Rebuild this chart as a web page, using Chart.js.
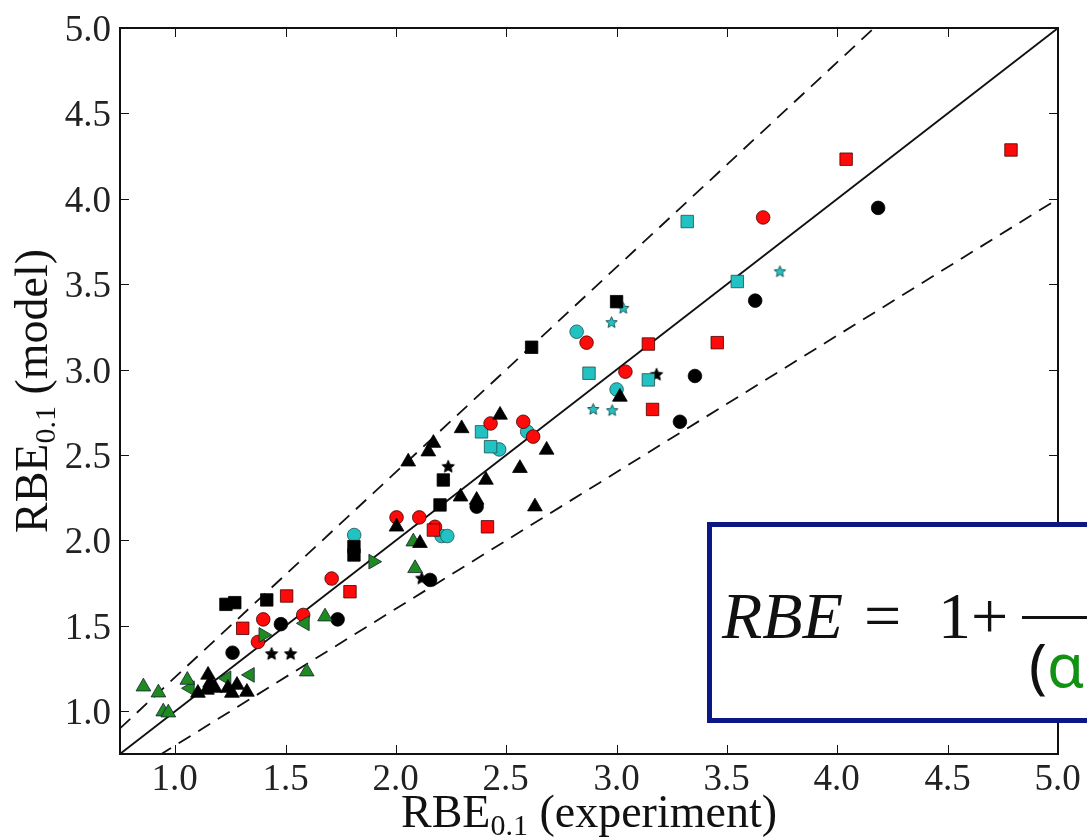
<!DOCTYPE html>
<html>
<head>
<meta charset="utf-8">
<script src="https://cdn.jsdelivr.net/npm/chart.js@4.4.1/dist/chart.umd.min.js"></script>
<style>
  html, body { margin: 0; padding: 0; background: #fff; overflow: hidden; }
  #wrap { position: relative; width: 1087px; height: 839px; overflow: hidden; }
  #formula {
    position: absolute; left: 707px; top: 522px; width: 430px; height: 191px;
    border: 5px solid #0b1784; background: #fff;
  }
  .f { position: absolute; line-height: 1; white-space: nowrap; color: #111; }
  .serif { font-family: "Liberation Serif", serif; font-size: 66px; }
  .sans { font-family: "Noto Sans", sans-serif; font-size: 60px; }
  #bar { position: absolute; left: 1022px; top: 616px; width: 90px; height: 3px; background: #111; }
</style>
</head>
<body>
<div id="wrap">
  <canvas id="rbeChart" width="1087" height="839"></canvas>
  <div id="formula"></div>
  <span class="f serif" style="left:722px; top:583px; font-style:italic;">RBE</span>
  <span class="f serif" style="left:864px; top:583px;">=</span>
  <span class="f serif" style="left:938px; top:583px;">1+</span>
  <div id="bar"></div>
  <span class="f sans" style="left:1029px; top:634px;">(<span style="color:#129212;">α</span></span>
</div>
<script>
// axis range and ticks (same for both axes)
const AXIS_MIN = 0.75;
const AXIS_MAX = 5.0;
const TICKS = [1.0, 1.5, 2.0, 2.5, 3.0, 3.5, 4.0, 4.5, 5.0];
const TICK_LABELS = ["1.0", "1.5", "2.0", "2.5", "3.0", "3.5", "4.0", "4.5", "5.0"];

// reference lines: identity and +/-20 %
const GUIDE_X = [0.75, 5.0];
const IDENTITY_Y = [0.75, 5.0];
const UPPER_Y = [0.9, 6.0];
const LOWER_Y = [0.6, 4.0];

// black markers
const blackSquareX = [1.23, 1.27, 1.415, 1.81, 1.81, 2.20, 2.215, 2.615, 3.0];
const blackSquareY = [1.626, 1.636, 1.652, 1.964, 1.915, 2.208, 2.354, 3.131, 3.398];

const blackCircleX = [1.26, 1.479, 1.736, 2.155, 2.366, 3.287, 3.355, 3.628, 4.185];
const blackCircleY = [1.343, 1.51, 1.538, 1.769, 2.198, 2.695, 2.963, 3.404, 3.947];

const blackTriX = [1.103, 1.144, 1.149, 1.158, 1.18, 1.239, 1.257, 1.28, 1.325,
  2.003, 2.109, 2.056, 2.147, 2.17, 2.298, 2.472, 2.408, 2.293, 2.366, 2.562, 2.683, 2.63, 3.015];
const blackTriY = [1.107, 1.125, 1.213, 1.166, 1.136, 1.136, 1.107, 1.154, 1.113,
  2.08, 1.984, 2.461, 2.52, 2.57, 2.656, 2.735, 2.354, 2.256, 2.237, 2.423, 2.53, 2.198, 2.84];

const blackStarX = [1.437, 1.523, 1.709, 2.117, 2.237, 3.181];
const blackStarY = [1.335, 1.335, 1.777, 1.777, 2.431, 2.97];

// red markers
const redSquareX = [1.306, 1.505, 1.792, 2.17, 2.415, 3.144, 3.163, 3.456, 4.04, 4.787];
const redSquareY = [1.486, 1.675, 1.70, 2.061, 2.08, 3.15, 2.767, 3.158, 4.232, 4.286];

const redCircleX = [1.375, 1.399, 1.58, 1.709, 2.003, 2.106, 2.177, 2.429, 2.577, 2.622, 2.864, 3.04, 3.664];
const redCircleY = [1.406, 1.538, 1.564, 1.777, 2.135, 2.135, 2.08, 2.685, 2.695, 2.608, 3.158, 2.988, 3.891];

// cyan markers
const cyanSquareX = [2.388, 2.429, 2.875, 3.144, 3.32, 3.547];
const cyanSquareY = [2.636, 2.549, 2.979, 2.94, 3.867, 3.516];

const cyanCircleX = [1.811, 2.207, 2.233, 2.468, 2.595, 2.819, 3.0];
const cyanCircleY = [2.032, 2.026, 2.026, 2.533, 2.637, 3.222, 2.884];

const cyanStarX = [2.894, 2.98, 2.977, 3.03, 3.74];
const cyanStarY = [2.767, 2.76, 3.275, 3.359, 3.573];

// green markers
const greenTriX = [0.856, 0.924, 0.946, 0.969, 1.055, 1.596, 1.679, 2.079, 2.087];
const greenTriY = [1.144, 1.109, 0.998, 0.992, 1.183, 1.232, 1.554, 1.993, 1.837];

const greenLeftX = [1.067, 1.233, 1.339, 1.588];
const greenLeftY = [1.135, 1.193, 1.213, 1.515];

const greenRightX = [1.399, 1.897];
const greenRightY = [1.447, 1.876];

const RED = "#ff0a0a";
const CYAN = "#22c2c2";
const GREEN = "#1f8a1f";
const TICK_FONT = '37px "Liberation Serif", serif';

function pts(xs, ys) {
  return xs.map((x, i) => ({ x: x, y: ys[i] }));
}

// filled five-point star used as a point image
function starImage(r, fill, stroke) {
  const size = Math.ceil(r * 2 + 3);
  const c = document.createElement("canvas");
  c.width = c.height = size;
  const g = c.getContext("2d");
  g.beginPath();
  for (let i = 0; i < 10; i++) {
    const rr = i % 2 ? r * 0.45 : r;
    const a = -Math.PI / 2 + (i * Math.PI) / 5;
    const px = size / 2 + rr * Math.cos(a);
    const py = size / 2 + rr * Math.sin(a);
    if (i === 0) g.moveTo(px, py); else g.lineTo(px, py);
  }
  g.closePath();
  g.fillStyle = fill;
  g.fill();
  g.lineWidth = 1;
  g.strokeStyle = stroke;
  g.stroke();
  return c;
}

function markers(xs, ys, style, fill, edge, radius, rotation) {
  return {
    type: "scatter",
    data: pts(xs, ys),
    pointStyle: style,
    pointRadius: radius,
    pointRotation: rotation || 0,
    backgroundColor: fill,
    borderColor: edge,
    pointBorderWidth: 0.8,
    order: 0,
  };
}

function guide(ys, dash) {
  return {
    type: "scatter",
    showLine: true,
    data: pts(GUIDE_X, ys),
    borderColor: "#111",
    borderWidth: 1.8,
    borderDash: dash,
    pointRadius: 0,
    clip: 0,
    order: 10,
  };
}

// frame, inward tick marks on all four sides and the tick labels
const framePlugin = {
  id: "frame",
  afterDraw(chart) {
    const { ctx, chartArea: a, scales } = chart;
    ctx.save();
    ctx.strokeStyle = "#111";
    ctx.fillStyle = "#222";
    ctx.lineWidth = 1;
    ctx.font = TICK_FONT;
    TICKS.forEach((v, i) => {
      const px = Math.round(scales.x.getPixelForValue(v)) + 0.5;
      const py = Math.round(scales.y.getPixelForValue(v)) + 0.5;
      ctx.beginPath();
      ctx.moveTo(px, a.bottom); ctx.lineTo(px, a.bottom - 9);
      ctx.moveTo(px, a.top); ctx.lineTo(px, a.top + 9);
      ctx.moveTo(a.left, py); ctx.lineTo(a.left + 9, py);
      ctx.moveTo(a.right, py); ctx.lineTo(a.right - 9, py);
      ctx.stroke();

      ctx.textBaseline = "alphabetic";
      ctx.textAlign = "center";
      ctx.fillText(TICK_LABELS[i], px - 1, a.bottom + 36);
      ctx.textAlign = "right";
      ctx.fillText(TICK_LABELS[i], a.left - 9, py + 12.5);
    });
    ctx.lineWidth = 2;
    ctx.strokeRect(a.left, a.top, a.right - a.left, a.bottom - a.top);
    ctx.restore();
  },
};

// axis titles with a subscript
function drawSubTitle(ctx, main, sub, rest, cx, baseline) {
  const big = '46px "Liberation Serif", serif';
  const small = '30px "Liberation Serif", serif';
  ctx.font = big;
  const w1 = ctx.measureText(main).width;
  const w3 = ctx.measureText(rest).width;
  ctx.font = small;
  const w2 = ctx.measureText(sub).width;
  let x = cx - (w1 + w2 + w3) / 2;
  ctx.textAlign = "left";
  ctx.textBaseline = "alphabetic";
  ctx.font = big;
  ctx.fillText(main, x, baseline);
  x += w1;
  ctx.font = small;
  ctx.fillText(sub, x, baseline + 8);
  x += w2;
  ctx.font = big;
  ctx.fillText(rest, x, baseline);
}

const titlePlugin = {
  id: "titles",
  afterDraw(chart) {
    const { ctx, chartArea: a } = chart;
    ctx.save();
    ctx.fillStyle = "#111";
    drawSubTitle(ctx, "RBE", "0.1", " (experiment)", (a.left + a.right) / 2, 827);
    ctx.translate(47, (a.top + a.bottom) / 2);
    ctx.rotate(-Math.PI / 2);
    drawSubTitle(ctx, "RBE", "0.1", " (model)", 0, 0);
    ctx.restore();
  },
};

function axis(pos) {
  return {
    type: "linear",
    position: pos,
    min: AXIS_MIN,
    max: AXIS_MAX,
    grid: { display: false },
    border: { display: false },
    afterBuildTicks: (s) => { s.ticks = TICKS.map((v) => ({ value: v })); },
    afterFit: (s) => {
      if (pos === "bottom") s.height = 85; else s.width = 120;
    },
    ticks: { display: false },
  };
}

const blackStar = starImage(6.5, "#000", "#000");
const cyanStar = starImage(6, CYAN, "#1d5a5a");

new Chart(document.getElementById("rbeChart").getContext("2d"), {
  type: "scatter",
  data: {
    datasets: [
      guide(IDENTITY_Y, []),
      guide(UPPER_Y, [14, 9]),
      guide(LOWER_Y, [14, 9]),
      markers(blackTriX, blackTriY, "triangle", "#000", "#000", 8.5),
      markers(greenTriX, greenTriY, "triangle", GREEN, "#123", 8.5),
      markers(greenLeftX, greenLeftY, "triangle", GREEN, "#123", 8.5, -90),
      markers(greenRightX, greenRightY, "triangle", GREEN, "#123", 8.5, 90),
      markers(blackSquareX, blackSquareY, "rect", "#000", "#000", 8.8),
      markers(blackCircleX, blackCircleY, "circle", "#000", "#000", 6.8),
      markers(redSquareX, redSquareY, "rect", RED, "#400", 8.8),
      markers(redCircleX, redCircleY, "circle", RED, "#400", 6.8),
      markers(cyanSquareX, cyanSquareY, "rect", CYAN, "#1d4f4f", 8.8),
      markers(cyanCircleX, cyanCircleY, "circle", CYAN, "#1d4f4f", 6.8),
      markers(blackStarX, blackStarY, blackStar, "#000", "#000", 7),
      markers(cyanStarX, cyanStarY, cyanStar, CYAN, "#1d5a5a", 6),
    ],
  },
  options: {
    responsive: false,
    animation: false,
    layout: { padding: { left: 0, top: 28, right: 29, bottom: 0 } },
    plugins: { legend: { display: false }, tooltip: { enabled: false } },
    scales: { x: axis("bottom"), y: axis("left") },
  },
  plugins: [framePlugin, titlePlugin],
});
</script>
</body>
</html>
